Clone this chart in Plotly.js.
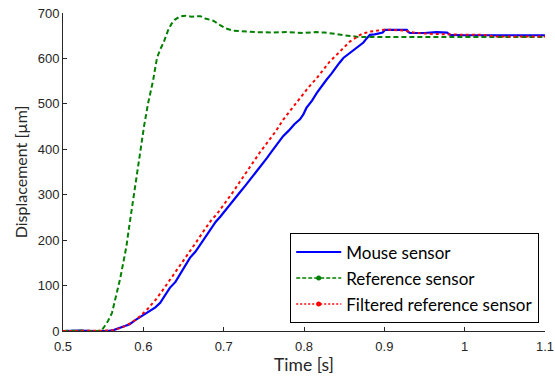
<!DOCTYPE html>
<html>
<head>
<meta charset="utf-8">
<script src="https://cdn.plot.ly/plotly-3.0.1.min.js"></script>
<style>html,body{margin:0;padding:0;background:#fff;}#chart{width:555px;height:377px;}</style>
</head>
<body>
<div id="chart"></div>
<script>
// Mouse sensor
var mouseX = [0.5, 0.52, 0.54, 0.555, 0.563, 0.571, 0.577, 0.583, 0.59, 0.6, 0.608, 0.615, 0.621, 0.627, 0.633, 0.64, 0.646, 0.652, 0.658, 0.665, 0.671, 0.677, 0.683, 0.69, 0.696, 0.704, 0.712, 0.72, 0.727, 0.733, 0.74, 0.747, 0.754, 0.761, 0.767, 0.774, 0.781, 0.788, 0.795, 0.799, 0.803, 0.81, 0.816, 0.822, 0.828, 0.834, 0.839, 0.844, 0.849, 0.856, 0.862, 0.868, 0.874, 0.878, 0.882, 0.888, 0.895, 0.898, 0.901, 0.915, 0.928, 0.93, 0.932, 0.95, 0.965, 0.978, 0.98, 0.982, 1.0, 1.05, 1.1];
var mouseY = [0, 1, 0, 0, 2, 7, 11, 15, 24, 35, 43, 52, 62, 79, 95, 108, 125, 143, 161, 175, 191, 208, 224, 240, 252, 270, 289, 305, 320, 333, 350, 364, 381, 398, 412, 429, 441, 455, 466, 476, 491, 507, 524, 540, 553, 566, 579, 590, 601, 611, 619, 627, 635, 644, 652, 653, 656, 657, 663, 663, 663, 658, 656, 656, 658, 657, 654, 652, 651, 651, 651];
// Reference sensor
var refX = [0.5, 0.52, 0.54, 0.548, 0.552, 0.556, 0.561, 0.566, 0.571, 0.575, 0.579, 0.582, 0.585, 0.59, 0.596, 0.601, 0.606, 0.612, 0.617, 0.621, 0.625, 0.631, 0.635, 0.639, 0.645, 0.652, 0.66, 0.666, 0.671, 0.677, 0.687, 0.695, 0.703, 0.712, 0.725, 0.74, 0.76, 0.78, 0.8, 0.815, 0.825, 0.832, 0.84, 0.849, 0.86, 0.87, 0.9, 0.95, 1.0, 1.05, 1.1];
var refY = [0, 1, 0, 1, 11, 22, 40, 75, 114, 150, 187, 225, 261, 330, 401, 452, 502, 550, 601, 620, 634, 663, 676, 685, 692, 694, 692, 693, 693, 688, 683, 674, 666, 661, 659, 658, 657, 658, 656, 658, 657, 656, 654, 651, 649, 647, 647, 647, 647, 647, 647];
// Filtered reference sensor
var filtX = [0.5, 0.55, 0.56, 0.565, 0.575, 0.585, 0.595, 0.605, 0.615, 0.625, 0.635, 0.645, 0.655, 0.664, 0.675, 0.685, 0.691, 0.7, 0.712, 0.72, 0.733, 0.745, 0.754, 0.765, 0.774, 0.785, 0.795, 0.805, 0.816, 0.825, 0.832, 0.839, 0.845, 0.851, 0.857, 0.864, 0.87, 0.876, 0.882, 0.89, 0.899, 0.91, 0.926, 0.933, 0.94, 0.96, 0.982, 1.0, 1.023, 1.04, 1.07, 1.1];
var filtY = [0, 0, 1, 3, 9, 18, 31, 48, 68, 92, 117, 142, 168, 191, 220, 245, 256, 277, 307, 328, 363, 393, 414, 440, 465, 490, 513, 535, 557, 577, 593, 605, 615, 627, 637, 645, 652, 656, 659, 661, 663, 663, 661, 658, 656, 654, 652, 652, 652, 648, 648, 648];

var names = ['Mouse sensor', 'Reference sensor', 'Filtered reference sensor'];
var colors = ['#0000ff', '#008000', '#ff0000'];
var dashes = ['solid', '5px,3px', 'dot'];

var traces = [
  {x: mouseX, y: mouseY, mode: 'lines', line: {color: colors[0], width: 2.2, dash: dashes[0]}, showlegend: false},
  {x: refX, y: refY, mode: 'lines', line: {color: colors[1], width: 2, dash: dashes[1]}, showlegend: false},
  {x: filtX, y: filtY, mode: 'lines', line: {color: colors[2], width: 2, dash: dashes[2]}, showlegend: false},
  {x: [null], y: [null], name: names[0], legendgroup: 'a', mode: 'lines', line: {color: colors[0], width: 2, dash: 'solid'}},
  {x: [null], y: [null], name: names[1], legendgroup: 'b', mode: 'lines+markers', line: {color: colors[1], width: 1.5, dash: '4px,2px'}, marker: {color: colors[1], size: 5}},
  {x: [null], y: [null], name: names[2], legendgroup: 'c', mode: 'lines+markers', line: {color: colors[2], width: 1.5, dash: '2px,2px'}, marker: {color: colors[2], size: 5}}
];

var layout = {
  width: 555, height: 377,
  margin: {l: 63, r: 10, t: 13, b: 46},
  paper_bgcolor: '#fff', plot_bgcolor: '#fff',
  font: {family: 'Liberation Sans, Arial, sans-serif', size: 13, color: '#262626'},
  xaxis: {
    range: [0.5, 1.1], tickvals: [0.5, 0.6, 0.7, 0.8, 0.9, 1, 1.1], ticktext: ['0.5', '0.6', '0.7', '0.8', '0.9', '1', '1.1'],
    showgrid: false, zeroline: false, showline: true, linecolor: '#262626', linewidth: 1,
    ticks: 'inside', ticklen: 4, tickcolor: '#262626', ticklabelstandoff: 3,
    tickfont: {size: 13, color: '#262626'},
    title: {text: 'Time [s]', font: {family: 'Lato, sans-serif', size: 17.5, color: '#262626'}, standoff: 4}
  },
  yaxis: {
    range: [0, 700], tickvals: [0, 100, 200, 300, 400, 500, 600, 700],
    showgrid: false, zeroline: false, showline: true, linecolor: '#262626', linewidth: 1,
    ticks: 'inside', ticklen: 4, tickcolor: '#262626',
    tickfont: {size: 13, color: '#262626'},
    title: {text: 'Displacement [µm]', font: {family: 'Lato, sans-serif', size: 16, color: '#262626'}, standoff: 6}
  },
  legend: {
    x: 0.988, y: 0.024, xanchor: 'right', yanchor: 'bottom',
    bgcolor: '#fff', bordercolor: '#000', borderwidth: 1,
    font: {family: 'Lato, sans-serif', size: 17, color: '#000'},
    itemwidth: 45, tracegroupgap: 1
  }
};

Plotly.newPlot('chart', traces, layout, {displayModeBar: false, staticPlot: true});
</script>
</body>
</html>
